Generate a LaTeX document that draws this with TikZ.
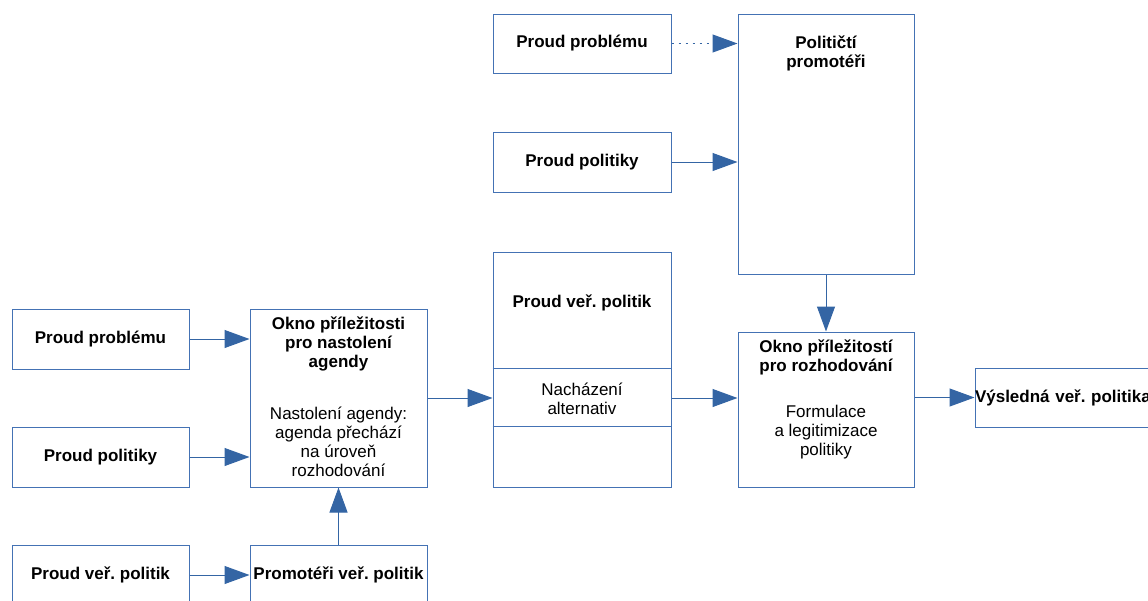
\documentclass[tikz,border=0pt]{standalone}
\usepackage{fontspec}
\setmainfont{Liberation Sans}
\usetikzlibrary{arrows.meta, calc}
\definecolor{boxblue}{RGB}{68, 114, 180}
\definecolor{arrblue}{RGB}{52, 101, 164}
\frenchspacing

\begin{document}
\begin{tikzpicture}[x=1pt, y=-1pt,
    txt/.style={font=\fontsize{17pt}{19pt}\selectfont, align=center, inner sep=0pt},
    head/.style={txt, font=\fontsize{17pt}{19pt}\selectfont\bfseries},
    box/.style={draw=boxblue, line width=1pt, inner sep=0pt, head},
    arr/.style={draw=arrblue, line width=1pt, -{Triangle[length=25pt, width=18pt]}}]

  \useasboundingbox (0, 0) rectangle (1148, 600);
  \clip (0, 0) rectangle (1148, 600);

  % upper streams
  \node[box, minimum width=178pt, minimum height=59pt] (problem1) at (582, 43.5) {Proud problému};
  \node[box, minimum width=178pt, minimum height=60pt] (policy1) at (582, 162) {Proud politiky};
  \node[box, minimum width=176pt, minimum height=260pt] (promoters) at (826, 144) {};
  \node[head] (promoterstext) at ([yshift=-39.5pt]promoters.north) {Političtí\\promotéři};

  % left streams
  \node[box, minimum width=177pt, minimum height=60pt] (problem2) at (100.5, 339) {Proud problému};
  \node[box, minimum width=177pt, minimum height=60pt] (policy2) at (100.5, 457) {Proud politiky};
  \node[box, minimum width=177pt, minimum height=60pt] (public2) at (100.5, 575) {Proud veř. politik};

  \node[box, minimum width=177pt, minimum height=178pt] (window1) at (338.5, 398) {};
  \node[head] (window1title) at ([yshift=-35pt]window1.north) {Okno příležitosti\\pro nastolení\\agendy};
  \node[txt] (window1text) at ([yshift=-133pt]window1.north) {Nastolení agendy:\\agenda přechází\\na úroveň\\rozhodování};
  \node[box, minimum width=177pt, minimum height=60pt] (publicprom) at (338.5, 575) {Promotéři veř. politik};

  % middle column
  \node[box, minimum width=178pt, minimum height=235pt] (public1) at (582, 369.5) {};
  \draw[boxblue, line width=1pt] ($(public1.north west)+(0, 117)$) -- ($(public1.north east)+(0, 117)$);
  \draw[boxblue, line width=1pt] ($(public1.north west)+(0, 175)$) -- ($(public1.north east)+(0, 175)$);
  \node[head] (public1title) at ([yshift=-51pt]public1.north) {Proud veř. politik};
  \node[txt] (searchtext) at ([yshift=-147pt]public1.north) {Nacházení\\alternativ};

  \node[box, minimum width=176pt, minimum height=155pt] (window2) at (826, 409.5) {};
  \node[head] (window2title) at ([yshift=-26pt]window2.north) {Okno příležitostí\\pro rozhodování};
  \node[txt] (window2text) at ([yshift=-101pt]window2.north) {Formulace\\a legitimizace\\politiky};

  \node[box, minimum width=180pt, minimum height=59pt, text width=180pt, align=left] (result) at (1065, 397.5) {Výsledná veř. politika};

  % arrows
  \draw[arr] (problem2.east) -- (problem2.east -| window1.west);
  \draw[arr] (policy2.east) -- (policy2.east -| window1.west);
  \draw[arr] (public2.east) -- (publicprom.west);
  \draw[arr] (publicprom.north) -- (window1.south);
  \draw[arr] (window1.east) -- (window1.east -| public1.west);
  \draw[arr] (window1.east -| public1.east) -- (window1.east -| window2.west);
  \draw[arr] (result.west -| window2.east) -- (result.west);
  \draw[arr, dash pattern=on 2pt off 5pt] (problem1.east) -- (problem1.east -| promoters.west);
  \draw[arr] (policy1.east) -- (policy1.east -| promoters.west);
  \draw[arr] (promoters.south) -- (window2.north);

\end{tikzpicture}
\end{document}
